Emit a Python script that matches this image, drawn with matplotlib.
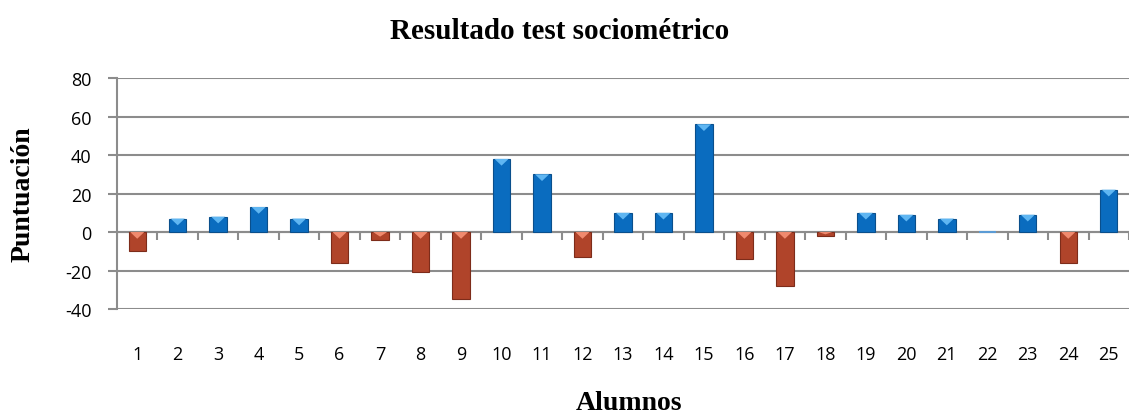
import matplotlib
matplotlib.use('Agg')
import matplotlib.pyplot as plt
import numpy as np
from matplotlib.patches import Polygon

# datos
alumnos = [str(i) for i in range(1, 26)]
puntuacion = [-10, 7, 8, 13, 7, -16, -4, -21, -35, 38, 30, -13, 10, 10, 56,
              -14, -28, -2, 10, 9, 7, 0, 9, -16, 22]
y_ticks = [-40, -20, 0, 20, 40, 60, 80]

BLUE = '#0a6cbf'
BLUE_EDGE = '#0a4f8c'
BLUE_LIGHT = '#5fb6f2'
RED = '#b0442a'
RED_EDGE = '#7d2c1a'
RED_LIGHT = '#f08a6e'
GRID = '#8c8c8c'

SERIF = 'Liberation Serif'
SANS = ['Open Sans', 'DejaVu Sans']

fig = plt.figure(figsize=(11.29, 4.14), dpi=100)
ax = fig.add_axes([0.1036, 0.2512, 0.8964, 0.5578])

x = np.arange(len(alumnos))
colors = [BLUE if v >= 0 else RED for v in puntuacion]
edges = [BLUE_EDGE if v >= 0 else RED_EDGE for v in puntuacion]
bars = ax.bar(x, puntuacion, width=0.43, color=colors, edgecolor=edges,
              linewidth=0.8, zorder=3)

# bisel: triángulo claro en el borde superior de cada barra
for b, v in zip(bars, puntuacion):
    if v == 0:
        b.set_edgecolor('#5b9bd5')
        b.set_linewidth(1.5)
        continue
    x0 = b.get_x()
    w = b.get_width()
    top = max(b.get_y(), b.get_y() + b.get_height())
    d = min(abs(v) * 0.6, 3.5)
    tri = Polygon([(x0 + 0.04, top), (x0 + w - 0.04, top), (x0 + w / 2, top - d)],
                  closed=True, color=BLUE_LIGHT if v > 0 else RED_LIGHT,
                  zorder=4, lw=0)
    ax.add_patch(tri)

ax.set_xlim(-0.5, len(alumnos) - 0.5)
ax.set_ylim(-40, 80)
ax.set_yticks(y_ticks)
ax.set_yticklabels([str(t) for t in y_ticks], fontfamily=SANS, fontsize=13)
ax.tick_params(axis='y', length=6.5, width=1.5, color=GRID, pad=12)

ax.set_xticks(x)
ax.set_xticklabels(alumnos, fontfamily=SANS, fontsize=13)
ax.tick_params(axis='x', length=0, pad=26)

ax.grid(axis='y', color=GRID, linewidth=1.5, zorder=0)
for s in ['top', 'right', 'bottom']:
    ax.spines[s].set_visible(False)
ax.spines['left'].set_color(GRID)
ax.spines['left'].set_linewidth(1.5)

# eje en cero con marcas entre categorías
ax.axhline(0, color=GRID, linewidth=1.5, zorder=2)
bounds = np.arange(len(alumnos) + 1) - 0.5
ax.vlines(bounds, -4, 0, color=GRID, linewidth=1.5, zorder=2)

fig.text(0.496, 0.925, 'Resultado test sociométrico',
         ha='center', va='center', fontfamily=SERIF, fontweight='bold',
         fontsize=21)
fig.text(0.557, 0.025, 'Alumnos', ha='center',
         va='center', fontfamily=SERIF, fontweight='bold', fontsize=20)
fig.text(0.02, 0.53, 'Puntuación', ha='center', va='center', rotation=90,
         fontfamily=SERIF, fontweight='bold', fontsize=20)

fig.savefig('out.png', dpi=100)
